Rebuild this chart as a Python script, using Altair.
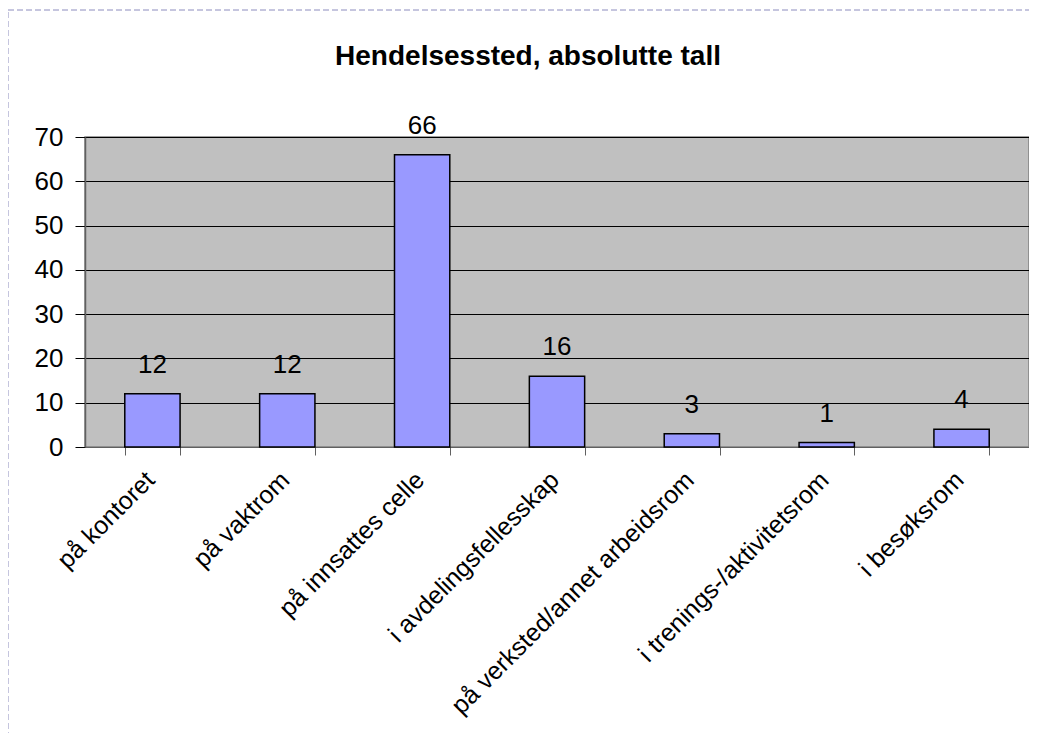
import altair as alt
import pandas as pd

categories = ["på kontoret", "på vaktrom", "på innsattes celle", "i avdelingsfellesskap",
              "på verksted/annet arbeidsrom", "i trenings-/aktivitetsrom", "i besøksrom"]
values = [12, 12, 66, 16, 3, 1, 4]

df = pd.DataFrame({"sted": categories, "antall": values})
frame_df = pd.DataFrame({"f": [0]})

FONT = "Liberation Sans"

x = alt.X("sted:N", sort=categories, title=None,
          scale=alt.Scale(paddingInner=0.59, paddingOuter=0.295),
          axis=alt.Axis(labelAngle=-45, labelFontSize=25, labelFont=FONT, labelColor="black",
                        tickBand="extent", tickSize=8, tickColor="#606060", domainColor="#606060",
                        labelPadding=12, labelOffset=-11, grid=False, labelLimit=500))
y = alt.Y("antall:Q", title=None,
          scale=alt.Scale(domain=[0, 70]),
          axis=alt.Axis(values=[0, 10, 20, 30, 40, 50, 60, 70], labelFontSize=26, labelFont=FONT,
                        labelColor="black", tickSize=10, tickColor="black", domainColor="#606060",
                        domainWidth=1.5, gridColor="black", gridOpacity=1, gridWidth=1,
                        labelPadding=12))

bars = alt.Chart(df).mark_bar(color="#9999FF", stroke="black", strokeWidth=1.5).encode(x=x, y=y)
labels = alt.Chart(df).mark_text(baseline="alphabetic", dy=-21, fontSize=26, font=FONT,
                                 color="black").encode(
    x=alt.X("sted:N", sort=categories), y="antall:Q", text="antall:Q")

border = alt.Chart(frame_df).mark_rect(fill=None, stroke="#8C8CBE", strokeWidth=1,
                                       strokeDash=[6, 3]).encode(
    x=alt.value(-77), x2=alt.value(951), y=alt.value(-127), y2=alt.value(640))

chart = alt.layer(border, bars, labels).properties(
    width=944, height=310,
    padding={"left": 77, "top": 129, "right": 0, "bottom": 286},
    autosize=alt.AutoSizeParams(type="none"),
    title=alt.TitleParams("Hendelsessted, absolutte tall", fontSize=28, font=FONT, fontWeight="bold",
                          anchor="middle", frame="bounds", offset=-61, dx=6, color="black"),
).configure_view(fill="#C0C0C0", stroke="#808080", strokeWidth=1.5)

chart.save("out.html", embed_options={"renderer": "svg", "actions": False})
